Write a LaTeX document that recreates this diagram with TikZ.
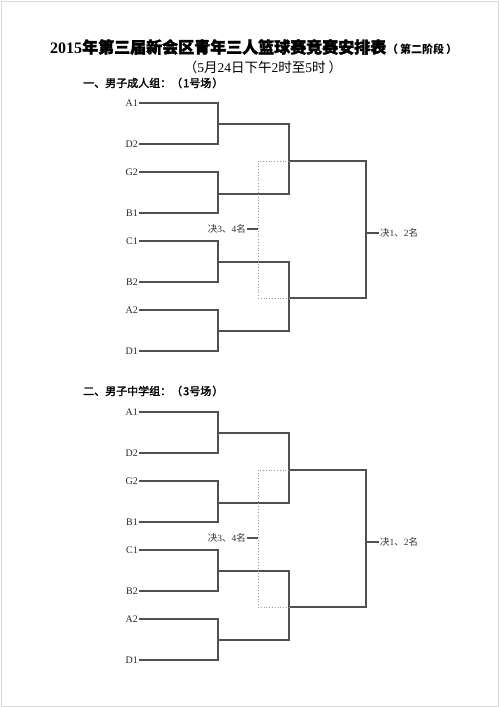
\documentclass[tikz,border=0pt]{standalone}
\usepackage{fontspec}
\setmainfont{Liberation Serif}
\newfontfamily\cjk{Noto Sans CJK SC}
\newfontfamily\cjkb{Noto Sans CJK SC}[FakeBold=2]
\definecolor{ln}{HTML}{505050}
\definecolor{dt}{HTML}{999999}
\tikzset{
  team/.style={anchor=east,inner sep=1pt,font=\fontsize{10}{11}\selectfont,text=black!85},
  lbl/.style={inner sep=1pt,font=\fontsize{9.5}{10}\selectfont,text=black!80},
  brk/.style={draw=ln,line width=1.1pt},
  dotbox/.style={draw=dt,line width=0.8pt,dotted},
  hdr/.style={anchor=west,inner sep=0pt,font=\cjkb\fontsize{11}{12}\selectfont}
}
\newcommand{\mybracket}[1]{%
  % team labels
  \node[team] (#1A1) at (139,103) {A1};
  \node[team] (#1D2) at (139,144) {D2};
  \node[team] (#1G2) at (139,172) {G2};
  \node[team] (#1B1) at (139,213) {B1};
  \node[team] (#1C1) at (139,241) {C1};
  \node[team] (#1B2) at (139,282) {B2};
  \node[team] (#1A2) at (139,310) {A2};
  \node[team] (#1D1) at (139,351) {D1};
  % round 1 corners
  \coordinate (#1a) at (218,103); \coordinate (#1b) at (218,144); \coordinate (#1m1) at (218,124);
  \coordinate (#1c) at (218,172); \coordinate (#1d) at (218,213); \coordinate (#1m2) at (218,194);
  \coordinate (#1e) at (218,241); \coordinate (#1f) at (218,282); \coordinate (#1m3) at (218,262);
  \coordinate (#1g) at (218,310); \coordinate (#1h) at (218,351); \coordinate (#1m4) at (218,331);
  % round 2 corners
  \coordinate (#1p1) at (289,124); \coordinate (#1p2) at (289,194); \coordinate (#1s1) at (289,161);
  \coordinate (#1p3) at (289,262); \coordinate (#1p4) at (289,331); \coordinate (#1s2) at (289,298);
  % final
  \coordinate (#1f1) at (366,161); \coordinate (#1f2) at (366,298); \coordinate (#1fm) at (366,233);
  % dotted box
  \coordinate (#1d1) at (258,161); \coordinate (#1d2) at (258,298); \coordinate (#1dm) at (258,229);
  \draw[brk] (#1A1.east) -- (#1a) -- (#1b) -- (#1D2.east);
  \draw[brk] (#1G2.east) -- (#1c) -- (#1d) -- (#1B1.east);
  \draw[brk] (#1C1.east) -- (#1e) -- (#1f) -- (#1B2.east);
  \draw[brk] (#1A2.east) -- (#1g) -- (#1h) -- (#1D1.east);
  \draw[brk] (#1m1) -- (#1p1) -- (#1p2) -- (#1m2);
  \draw[brk] (#1m3) -- (#1p3) -- (#1p4) -- (#1m4);
  \draw[brk] (#1s1) -- (#1f1) -- (#1f2) -- (#1s2);
  \draw[dotbox] (#1s1) -- (#1d1) -- (#1d2) -- (#1s2);
  \node[lbl,anchor=west] (#1w12) at (379,233) {{\cjk 决}1{\cjk 、}2{\cjk 名}};
  \node[lbl,anchor=east] (#1w34) at (247,229) {{\cjk 决}3{\cjk 、}4{\cjk 名}};
  \draw[brk] (#1fm) -- (#1w12.west);
  \draw[brk] (#1dm) -- (#1w34.east);
}
\begin{document}
\begin{tikzpicture}[x=1pt,y=-1pt]
\useasboundingbox (0,0) rectangle (500,707);
\draw[draw=black!15,line width=1pt] (1,1) rectangle (498.5,706);
\node[anchor=west,inner sep=0pt] (title) at (50,47)
  {\fontsize{16}{18}\selectfont\bfseries 2015{\cjkb 年第三届新会区青年三人篮球赛竞赛安排表}\hspace{1pt}{\cjk\fontsize{11}{12}\selectfont （\hspace{2pt}第二阶段\hspace{2pt}）}};
\node[inner sep=0pt] (sub) at (263,67)
  {\fontsize{13.5}{14}\selectfont {\cjk （}5{\cjk 月}24{\cjk 日下午}2{\cjk 时至}5{\cjk 时 ）}};
\node[hdr] (h1) at (83,83) {一、男子成人组：（\hspace{1pt}1号场\hspace{1pt}）};
\mybracket{s}
\node[hdr] (h2) at (83,391) {二、男子中学组：（\hspace{1pt}3号场\hspace{1pt}）};
\begin{scope}[yshift=-309pt]
\mybracket{t}
\end{scope}
\end{tikzpicture}
\end{document}
